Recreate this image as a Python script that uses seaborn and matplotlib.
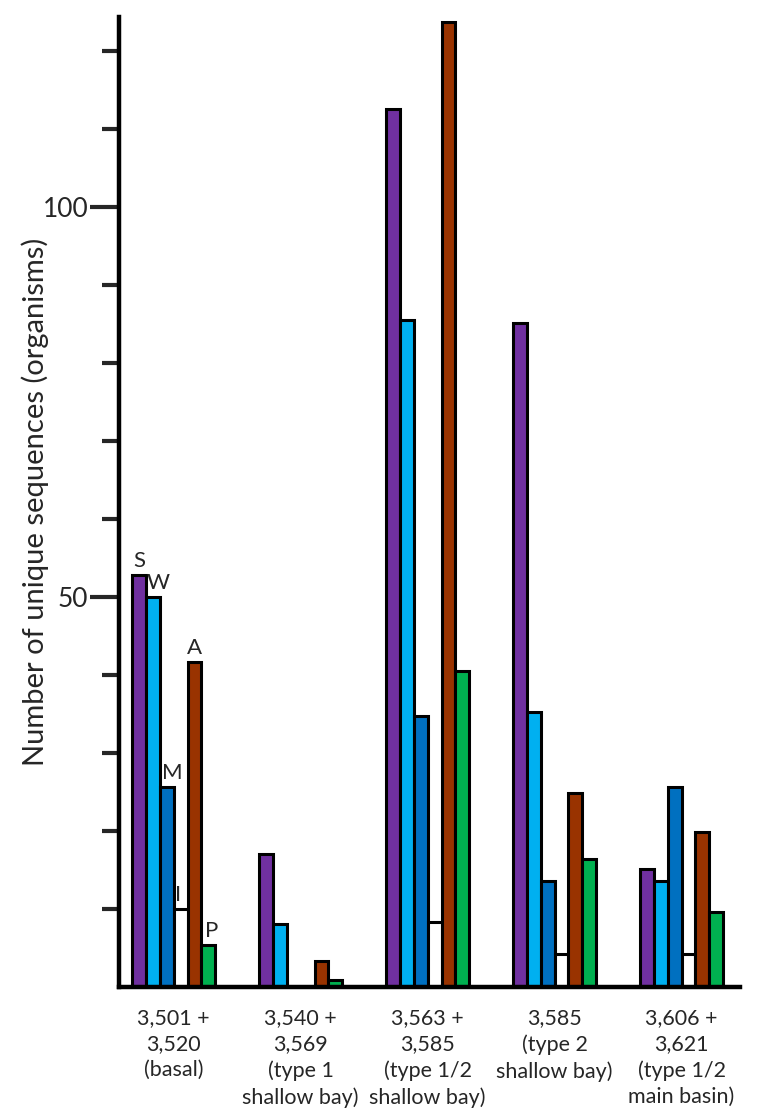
import matplotlib
matplotlib.use("Agg")
import matplotlib.pyplot as plt
import matplotlib.ticker as mtick
import numpy as np
import pandas as pd
import seaborn as sns

# Valores
sitios = [
    "3,501 +\n3,520\n(basal)",
    "3,540 +\n3,569\n(type 1\nshallow bay)",
    "3,563 +\n3,585\n(type 1/2\nshallow bay)",
    "3,585\n(type 2\nshallow bay)",
    "3,606 +\n3,621\n(type 1/2\nmain basin)",
]
grupos = ["S", "W", "M", "I", "A", "P"]
valores_s = [52.8, 17.1, 112.6, 85.1, 15.1]
valores_w = [50.0, 8.1, 85.6, 35.3, 13.6]
valores_m = [25.6, 0.0, 34.7, 13.6, 25.6]
valores_i = [10.0, 0.0, 8.3, 4.2, 4.2]
valores_a = [41.7, 3.3, 123.8, 24.9, 19.9]
valores_p = [5.4, 0.9, 40.5, 16.4, 9.6]

cores = ["#7030A0", "#00B0F0", "#0070C0", "#FFFFFF", "#993300", "#00B050"]

df = pd.DataFrame({
    "sitio": sitios * len(grupos),
    "grupo": np.repeat(grupos, len(sitios)),
    "n": valores_s + valores_w + valores_m + valores_i + valores_a + valores_p,
})

sns.set_style("white")
plt.rcParams["font.family"] = ["Lato", "DejaVu Sans"]

fig = plt.figure(figsize=(7.7, 11.17), dpi=100)
ax = fig.add_axes([0.1545, 0.1164, 0.8065, 0.8684])

sns.barplot(data=df, x="sitio", y="n", hue="grupo", hue_order=grupos,
            order=sitios, palette=cores, saturation=1, width=0.654,
            edgecolor="black", linewidth=2.2, errorbar=None, legend=False, ax=ax)

ax.set_xlim(-0.432, 4.46)
ax.set_ylim(0, 124.4)

# rótulos das barras do primeiro grupo
desloc = {"S": 0, "W": 4, "M": 4, "I": -2, "A": 0, "P": 2}
for g, cont in zip(grupos, ax.containers):
    barra = cont[0]
    xc = barra.get_x() + barra.get_width() / 2
    ax.annotate(g, (xc, barra.get_height()), xytext=(desloc[g], 3),
                textcoords="offset points", ha="center", va="bottom",
                fontsize=16)

ax.yaxis.set_major_locator(mtick.FixedLocator([50, 100]))
ax.yaxis.set_minor_locator(mtick.FixedLocator([10, 20, 30, 40, 60, 70, 80, 90, 110, 120]))
ax.tick_params(axis="y", which="major", length=21, width=3, labelsize=19, pad=1, left=True)
ax.tick_params(axis="y", which="minor", length=12, width=3, left=True)
ax.tick_params(axis="x", length=0, labelsize=15.5, pad=15)
for lab in ax.get_xticklabels():
    lab.set_linespacing(1.38)

ax.set_xlabel("")
ax.set_ylabel("Number of unique sequences (organisms)", fontsize=21)
ax.yaxis.set_label_coords(-0.113, 0.5)

for spine in ["top", "right"]:
    ax.spines[spine].set_visible(False)
for spine in ["left", "bottom"]:
    ax.spines[spine].set_linewidth(3.2)
    ax.spines[spine].set_color("black")

fig.savefig("out.png", dpi=100)
